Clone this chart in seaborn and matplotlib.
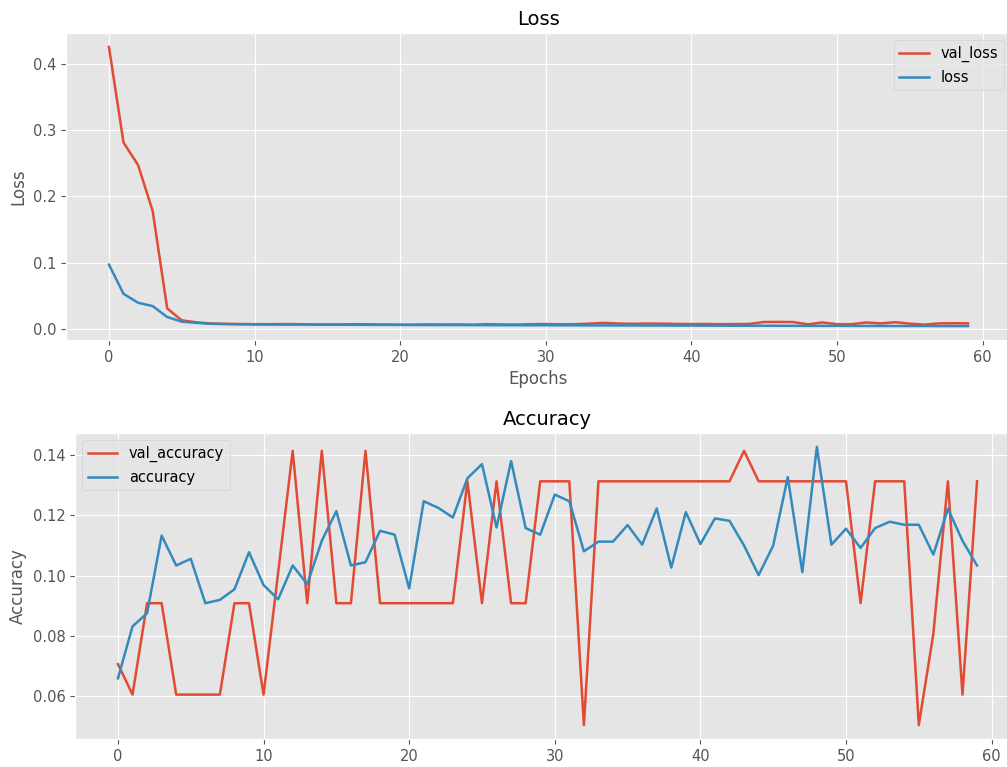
import numpy as np
import seaborn as sns
import matplotlib.pyplot as plt

# training history

epochs = list(range(60))

val_loss = [
    0.425, 0.281, 0.247, 0.178, 0.031, 0.013, 0.010, 0.0082, 0.0078, 0.0075,
    0.0072, 0.0072, 0.0074, 0.0072, 0.0068, 0.0066, 0.0068, 0.0072, 0.0070, 0.0066,
    0.0064, 0.0065, 0.0068, 0.0066, 0.0068, 0.0064, 0.0072, 0.0068, 0.0066, 0.0072,
    0.0075, 0.0070, 0.0072, 0.0080, 0.0092, 0.0082, 0.0078, 0.0082, 0.0080, 0.0076,
    0.0074, 0.0076, 0.0072, 0.0074, 0.0076, 0.0105, 0.0106, 0.0104, 0.0070, 0.0098,
    0.0072, 0.0072, 0.0098, 0.0084, 0.0102, 0.0080, 0.0066, 0.0084, 0.0086, 0.0085,
]

loss = [
    0.097, 0.053, 0.0395, 0.0345, 0.018, 0.011, 0.0092, 0.0078, 0.0072, 0.0070,
    0.0068, 0.0067, 0.0066, 0.0066, 0.0065, 0.0064, 0.0064, 0.0063, 0.0062, 0.0062,
    0.0061, 0.0060, 0.0060, 0.0059, 0.0059, 0.0058, 0.0058, 0.0057, 0.0057, 0.0056,
    0.0056, 0.0055, 0.0055, 0.0054, 0.0054, 0.0053, 0.0053, 0.0052, 0.0052, 0.0051,
    0.0051, 0.0050, 0.0050, 0.0049, 0.0049, 0.0049, 0.0048, 0.0048, 0.0047, 0.0047,
    0.0047, 0.0046, 0.0046, 0.0046, 0.0045, 0.0045, 0.0045, 0.0044, 0.0044, 0.0044,
]

val_accuracy = [
    0.0707, 0.0606, 0.0909, 0.0909, 0.0606, 0.0606, 0.0606, 0.0606, 0.0909, 0.0909,
    0.0606, 0.1010, 0.1414, 0.0909, 0.1414, 0.0909, 0.0909, 0.1414, 0.0909, 0.0909,
    0.0909, 0.0909, 0.0909, 0.0909, 0.1313, 0.0909, 0.1313, 0.0909, 0.0909, 0.1313,
    0.1313, 0.1313, 0.0505, 0.1313, 0.1313, 0.1313, 0.1313, 0.1313, 0.1313, 0.1313,
    0.1313, 0.1313, 0.1313, 0.1414, 0.1313, 0.1313, 0.1313, 0.1313, 0.1313, 0.1313,
    0.1313, 0.0909, 0.1313, 0.1313, 0.1313, 0.0505, 0.0808, 0.1313, 0.0606, 0.1313,
]

accuracy = [
    0.0660, 0.0832, 0.0876, 0.1133, 0.1034, 0.1056, 0.0909, 0.0920, 0.0955, 0.1078,
    0.0969, 0.0922, 0.1034, 0.0972, 0.1116, 0.1214, 0.1034, 0.1045, 0.1149, 0.1136,
    0.0958, 0.1247, 0.1225, 0.1193, 0.1323, 0.1370, 0.1160, 0.1380, 0.1158, 0.1136,
    0.1269, 0.1247, 0.1081, 0.1113, 0.1113, 0.1168, 0.1103, 0.1223, 0.1027, 0.1211,
    0.1105, 0.1190, 0.1182, 0.1100, 0.1002, 0.1100, 0.1327, 0.1012, 0.1427, 0.1103,
    0.1156, 0.1092, 0.1158, 0.1179, 0.1169, 0.1169, 0.1070, 0.1222, 0.1116, 0.1034,
]

# style

plt.style.use("ggplot")

red = "#E24A33"
blue = "#348ABD"
lw = 1.8

fig = plt.figure(figsize=(10.07, 7.67), dpi=100)

ax1 = fig.add_axes([66 / 1007, 427 / 767, 945 / 1007, 307 / 767])
ax2 = fig.add_axes([75 / 1007, 28 / 767, 945 / 1007, 306 / 767])

# loss plot

sns.lineplot(x=epochs, y=val_loss, ax=ax1, color=red, label="val_loss", linewidth=lw)
sns.lineplot(x=epochs, y=loss, ax=ax1, color=blue, label="loss", linewidth=lw)

ax1.set_title("Loss", fontsize=14)
ax1.set_xlabel("Epochs", fontsize=12)
ax1.set_ylabel("Loss", fontsize=12)
ax1.set_xticks([0, 10, 20, 30, 40, 50, 60])
ax1.set_yticks([0.0, 0.1, 0.2, 0.3, 0.4])
ax1.tick_params(labelsize=10.5)
ax1.legend(loc="upper right", fontsize=10.5)

# accuracy plot

sns.lineplot(x=epochs, y=val_accuracy, ax=ax2, color=red, label="val_accuracy", linewidth=lw)
sns.lineplot(x=epochs, y=accuracy, ax=ax2, color=blue, label="accuracy", linewidth=lw)

ax2.set_title("Accuracy", fontsize=14)
ax2.set_ylabel("Accuracy", fontsize=12)
ax2.set_xticks([0, 10, 20, 30, 40, 50, 60])
ax2.set_yticks([0.06, 0.08, 0.10, 0.12, 0.14])
ax2.tick_params(labelsize=10.5)
ax2.legend(loc="upper left", fontsize=10.5)

fig.savefig("out.png", dpi=100)
plt.close()
